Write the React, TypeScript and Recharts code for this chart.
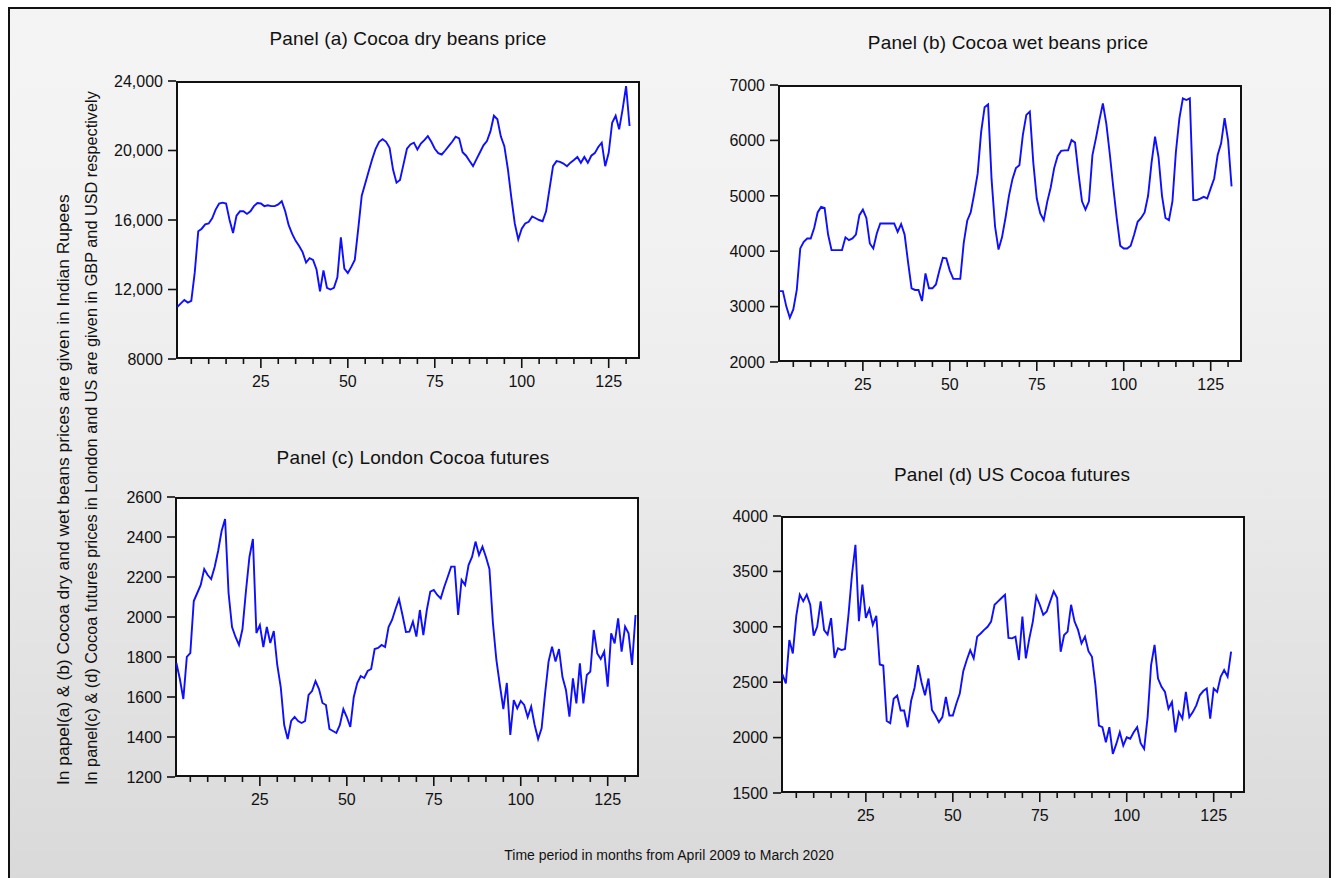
import React from "react";
import { LineChart, Line, XAxis, YAxis } from "recharts";

const dryBeans = [
  11000, 11200, 11400, 11250, 11350, 13000, 15350, 15500, 15750, 15800,
  16100, 16600, 16950, 17000, 16950, 16000, 15250, 16250, 16500, 16500,
  16350, 16500, 16800, 16980, 16950, 16800, 16850, 16800, 16800, 16900,
  17080, 16500, 15700, 15200, 14800, 14500, 14150, 13550, 13800, 13700,
  13150, 11900, 13100, 12100, 12000, 12100, 12700, 15000, 13200, 12950,
  13300, 13700, 15500, 17400, 18100, 18800, 19500, 20100, 20500, 20650,
  20500, 20150, 18900, 18150, 18300, 19200, 20100, 20350, 20450, 20060,
  20400, 20600, 20830, 20500, 20100, 19850, 19770, 20000, 20250, 20500,
  20800, 20700, 19900, 19700, 19400, 19100, 19500, 19900, 20300, 20540,
  21100, 22000, 21800, 20800, 20250, 18950, 17300, 15800, 14880, 15500,
  15800, 15900, 16200, 16100, 16000, 15930, 16500, 17800, 19100, 19390,
  19350, 19250, 19100, 19300, 19450, 19630, 19290, 19630, 19290, 19700,
  19850, 20200, 20450, 19100, 19870, 21600, 22000, 21220, 22370, 23710,
  21410,
];

const wetBeans = [
  3280, 3280, 3000, 2800, 2950, 3300, 4050, 4170, 4230, 4230,
  4420, 4700, 4800, 4780, 4300, 4020, 4020, 4020, 4020, 4250,
  4200, 4230, 4300, 4650, 4750, 4600, 4140, 4050, 4320, 4500,
  4500, 4500, 4500, 4500, 4350, 4490, 4300, 3800, 3330, 3300,
  3300, 3100, 3600, 3330, 3330, 3400, 3650, 3880, 3870, 3650,
  3500, 3500, 3500, 4150, 4550, 4700, 5030, 5400, 6150, 6600,
  6650, 5300, 4450, 4030, 4250, 4600, 5000, 5300, 5500, 5550,
  6100, 6460, 6520, 5600, 4950, 4680, 4560, 4890, 5150, 5500,
  5720, 5810, 5820, 5820, 6006, 5960, 5400, 4900, 4750, 4900,
  5735, 6036, 6367, 6669, 6300, 5750, 5150, 4590, 4100, 4049,
  4049, 4100, 4300, 4530, 4600, 4700, 5000, 5600, 6066, 5700,
  5000, 4600, 4560, 4900, 5795, 6398, 6759, 6729, 6759, 4922,
  4922, 4950, 4982, 4952, 5133, 5313, 5735, 5946, 6400, 6000,
  5170,
];

const londonFutures = [
  1770, 1690, 1590, 1800, 1820, 2080, 2120, 2160, 2240, 2210,
  2190, 2250, 2330, 2430, 2490, 2120, 1950, 1900, 1860, 1940,
  2130, 2300, 2390, 1920, 1960, 1850, 1950, 1870, 1930, 1760,
  1650, 1460, 1390, 1480, 1500, 1480, 1470, 1480, 1610, 1630,
  1680, 1640, 1570, 1560, 1440, 1430, 1420, 1460, 1540, 1500,
  1450, 1600, 1670, 1705, 1695, 1730, 1740, 1840, 1845, 1860,
  1850, 1950, 1985, 2040, 2090, 2010, 1925, 1927, 1977, 1902,
  2035, 1910, 2035, 2127, 2135, 2110, 2093, 2150, 2200, 2252,
  2252, 2010, 2185, 2160, 2260, 2300, 2377, 2310, 2352, 2300,
  2240, 1970, 1785, 1660, 1540, 1670, 1410, 1585, 1543, 1580,
  1560, 1500, 1552, 1460, 1390, 1443, 1618, 1777, 1852, 1777,
  1840, 1700, 1635, 1502, 1693, 1568, 1768, 1568, 1710, 1727,
  1935, 1818, 1790, 1827, 1652, 1918, 1868, 1993, 1827, 1952,
  1918, 1760, 2010,
];

const usFutures = [
  2570, 2490, 2880, 2760, 3100, 3290, 3230, 3290, 3200, 2920,
  3000, 3230, 2970, 2930, 3078, 2720, 2806, 2790, 2800, 3108,
  3470, 3740, 3050, 3380, 3080, 3160, 3017, 3100, 2660, 2650,
  2150, 2130, 2350, 2380, 2245, 2245, 2094, 2330, 2450, 2654,
  2500, 2382, 2533, 2250, 2200, 2140, 2185, 2367, 2200, 2200,
  2306, 2397, 2600, 2700, 2790, 2715, 2911, 2940, 2972, 3000,
  3047, 3199, 3229, 3260, 3289, 2900, 2896, 2911, 2700, 3093,
  2715, 2896, 3047, 3274, 3199, 3108, 3138, 3229, 3320, 3259,
  2775, 2926, 2957, 3199, 3047, 2972, 2850, 2911, 2780, 2730,
  2473, 2109, 2094, 1958, 2094, 1853, 1943, 2048, 1928, 2003,
  1990, 2048, 2094, 1950, 1898, 2185, 2654, 2836, 2533, 2458,
  2412, 2260, 2321, 2048, 2230, 2170, 2412, 2185, 2230, 2291,
  2382, 2420, 2443, 2170, 2443, 2412, 2549, 2609, 2549, 2775,
];

// x ticks every 5 months, labelled every 25
const xTicks = [
  5, 10, 15, 20, 25, 30, 35, 40, 45, 50, 55, 60, 65, 70, 75,
  80, 85, 90, 95, 100, 105, 110, 115, 120, 125, 130,
];
const yTicksA = [8000, 12000, 16000, 20000, 24000];
const yTicksB = [2000, 3000, 4000, 5000, 6000, 7000];
const yTicksC = [1200, 1400, 1600, 1800, 2000, 2200, 2400, 2600];
const yTicksD = [1500, 2000, 2500, 3000, 3500, 4000];

const FONT = "Arial, 'Liberation Sans', sans-serif";
const LINE = "#0f0fff";
const INK = "#111";

const toRows = (vals: number[]) => vals.map((v, i) => ({ t: i + 1, v }));

const fmt = (v: number) => (v >= 10000 ? v.toLocaleString("en-US") : String(v));

const XTick = (props: any) => {
  const { x, y, payload } = props;
  const major = payload.value % 25 === 0;
  return (
    <g>
      <line x1={x} x2={x} y1={y} y2={y + (major ? 9 : 5)} stroke={INK} strokeWidth={1.6} />
      {major && (
        <text x={x} y={y + 28} textAnchor="middle" fontSize={16} fill={INK} fontFamily={FONT}>
          {payload.value}
        </text>
      )}
    </g>
  );
};

const YTick = (props: any) => {
  const { x, y, payload } = props;
  return (
    <g>
      <line x1={x - 8} x2={x} y1={y} y2={y} stroke={INK} strokeWidth={1.6} />
      <text x={x - 13} y={y} dy="0.36em" textAnchor="end" fontSize={16} fill={INK} fontFamily={FONT}>
        {fmt(payload.value)}
      </text>
    </g>
  );
};

interface PanelProps {
  values: number[];
  left: number;
  top: number;
  width: number;
  height: number;
  yDomain: [number, number];
  yTicks: number[];
}

function Panel({ values, left, top, width, height, yDomain, yTicks }: PanelProps) {
  const padL = 120;
  const padT = 10;
  const padR = 10;
  const padB = 45;
  return (
    <>
      <div
        style={{
          position: "absolute",
          left,
          top,
          width,
          height,
          background: "#fff",
          border: "2px solid #111",
          boxSizing: "border-box",
        }}
      />
      <div style={{ position: "absolute", left: left - padL, top: top - padT }}>
        <LineChart
          width={width + padL + padR}
          height={height + padT + padB}
          data={toRows(values)}
          margin={{ top: padT, right: padR, left: 0, bottom: 0 }}
        >
          <XAxis
            type="number"
            dataKey="t"
            domain={[0.6, 134]}
            ticks={xTicks}
            allowDataOverflow
            axisLine={false}
            tickLine={false}
            tickSize={0}
            tickMargin={0}
            height={padB}
            tick={<XTick />}
            interval={0}
          />
          <YAxis
            domain={yDomain}
            ticks={yTicks}
            allowDataOverflow
            axisLine={false}
            tickLine={false}
            tickSize={0}
            tickMargin={0}
            width={padL}
            tick={<YTick />}
            interval={0}
          />
          <Line
            type="linear"
            dataKey="v"
            stroke={LINE}
            strokeWidth={1.9}
            dot={false}
            isAnimationActive={false}
          />
        </LineChart>
      </div>
    </>
  );
}

export default function App() {
  return (
    <div style={{ position: "absolute", left: 0, top: 0, width: 1338, height: 878, overflow: "hidden", fontFamily: FONT }}>
      <div
        style={{
          position: "absolute",
          left: 8,
          top: 7,
          width: 1323,
          height: 900,
          border: "2px solid #111",
          boxSizing: "border-box",
          background: "linear-gradient(#f4f4f4 0%, #f2f2f2 25%, #ebebeb 50%, #e2e2e2 75%, #d8d8d8 100%)",
        }}
      />
      <Panel values={dryBeans} left={176} top={81} width={464} height={278} yDomain={[8000, 24000]} yTicks={yTicksA} />
      <Panel values={wetBeans} left={778} top={85} width={464} height={277} yDomain={[2000, 7000]} yTicks={yTicksB} />
      <Panel values={londonFutures} left={175} top={497} width={464} height={280} yDomain={[1200, 2600]} yTicks={yTicksC} />
      <Panel values={usFutures} left={781} top={516} width={464} height={277} yDomain={[1500, 4000]} yTicks={yTicksD} />
      <svg width={1338} height={878} style={{ position: "absolute", left: 0, top: 0, pointerEvents: "none" }}>
        <g fontFamily={FONT} fill={INK}>
          <text x={408} y={45} textAnchor="middle" fontSize={19} letterSpacing={0.15}>Panel (a) Cocoa dry beans price</text>
          <text x={1008} y={49} textAnchor="middle" fontSize={19} letterSpacing={0.15}>Panel (b) Cocoa wet beans price</text>
          <text x={413} y={464} textAnchor="middle" fontSize={19} letterSpacing={0.15}>Panel (c) London Cocoa futures</text>
          <text x={1012} y={481} textAnchor="middle" fontSize={19} letterSpacing={0.15}>Panel (d) US Cocoa futures</text>
          <text x={69} y={785} fontSize={17.4} transform="rotate(-90 69 785)">
            In papel(a) &amp; (b) Cocoa dry and wet beans prices are given in Indian Rupees
          </text>
          <text x={97} y={785} fontSize={16.3} transform="rotate(-90 97 785)">
            In panel(c) &amp; (d) Cocoa futures prices in  London and US are given in GBP and USD respectively
          </text>
          <text x={669} y={860} textAnchor="middle" fontSize={14}>
            Time period in months from April 2009 to March 2020
          </text>
        </g>
      </svg>
    </div>
  );
}
